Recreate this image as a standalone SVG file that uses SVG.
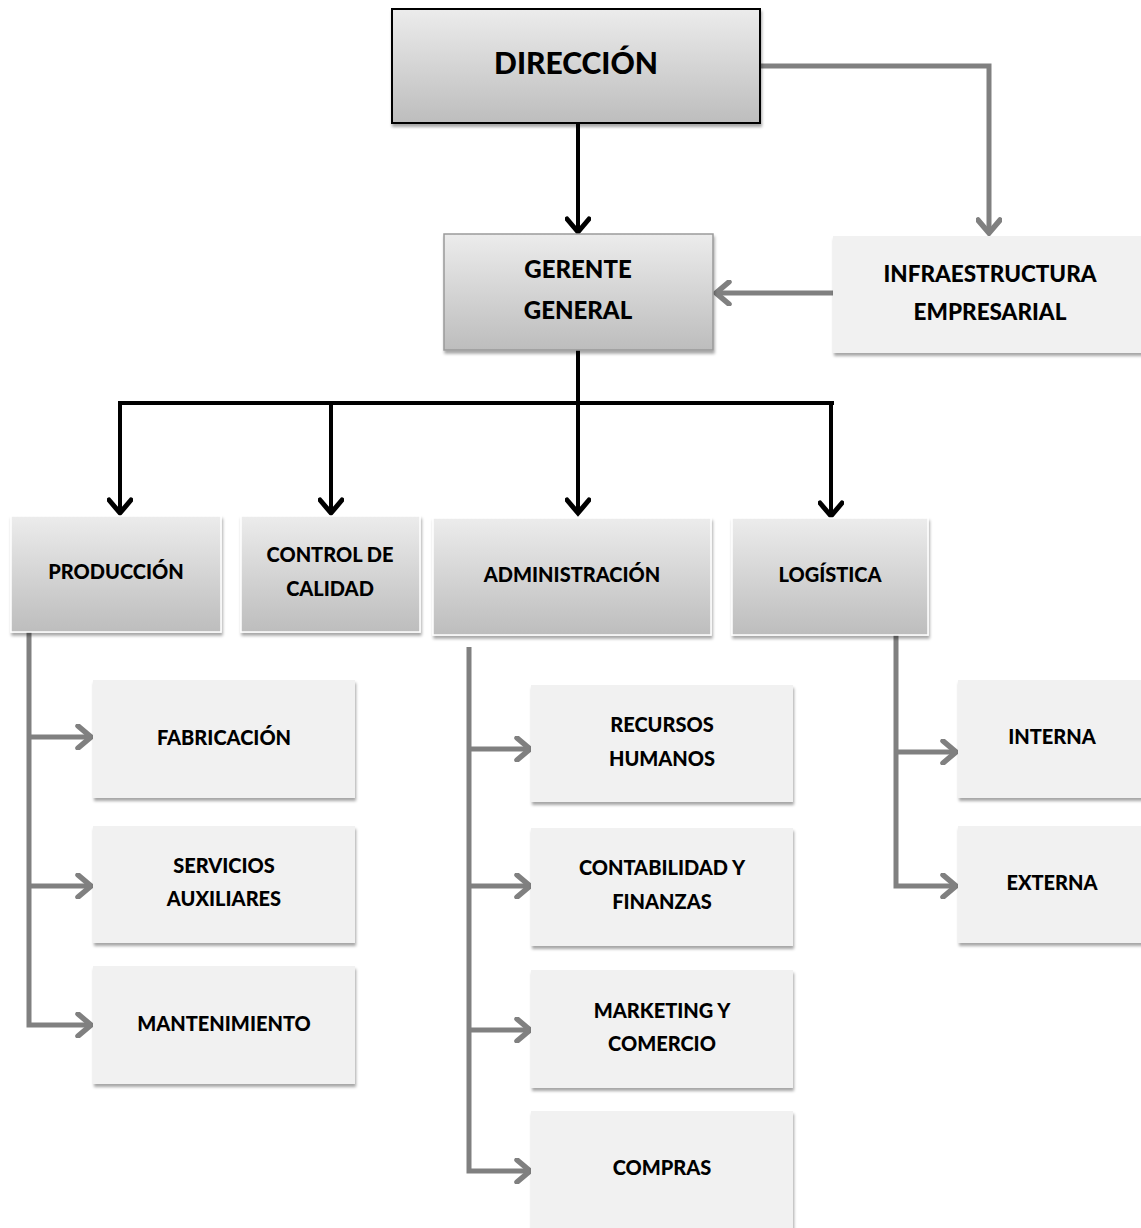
<svg xmlns="http://www.w3.org/2000/svg" width="1141" height="1228" viewBox="0 0 1141 1228">
  <style>
    text { font-family: Lato, "Open Sans", "Liberation Sans", sans-serif; font-weight: 900; fill: #000; text-anchor: middle; }
    .t-main { font-size: 30px; }
    .t-mid { font-size: 24px; }
    .t-infra { font-size: 22.5px; }
    .t-sub { font-size: 20px; }
    .grad-box { fill: url(#boxGrad); filter: url(#shadow); }
    .flat-box { fill: #f1f1f1; filter: url(#shadow); }
    .black-link { fill: none; stroke: #000; stroke-width: 4; }
    .gray-link { fill: none; stroke: #808080; stroke-width: 5; }
  </style>
  <defs>
    <linearGradient id="boxGrad" x1="0" y1="0" x2="0" y2="1">
      <stop offset="0" stop-color="#ececec"/>
      <stop offset="1" stop-color="#bdbdbd"/>
    </linearGradient>
    <filter id="shadow" x="-10%" y="-10%" width="130%" height="130%">
      <feDropShadow dx="1" dy="3" stdDeviation="1.5" flood-color="#000" flood-opacity="0.35"/>
    </filter>
    <marker id="headBlack" viewBox="0 0 26 26" refX="22" refY="13" markerWidth="26" markerHeight="26" markerUnits="userSpaceOnUse" orient="auto">
      <path d="M9,2 L22,13 L9,24" fill="none" stroke="#000" stroke-width="5" stroke-linecap="round" stroke-linejoin="miter"/>
    </marker>
    <marker id="headGray" viewBox="0 0 26 26" refX="22" refY="13" markerWidth="26" markerHeight="26" markerUnits="userSpaceOnUse" orient="auto">
      <path d="M9,2 L22,13 L9,24" fill="none" stroke="#808080" stroke-width="5.5" stroke-linecap="round" stroke-linejoin="miter"/>
    </marker>
  </defs>

  <!-- connectors -->
  <g id="connectors">
    <!-- top level -->
    <path class="black-link" d="M578,123 V232" marker-end="url(#headBlack)"/>
    <path class="gray-link" d="M760,66 H989 V233" marker-end="url(#headGray)"/>
    <path class="gray-link" d="M833,293 H716" marker-end="url(#headGray)"/>
    <!-- general manager to departments -->
    <path class="black-link" d="M578,350 V403"/>
    <path class="black-link" d="M118,403 H834"/>
    <path class="black-link" d="M120,403 V513" marker-end="url(#headBlack)"/>
    <path class="black-link" d="M331,403 V513" marker-end="url(#headBlack)"/>
    <path class="black-link" d="M578,403 V513" marker-end="url(#headBlack)"/>
    <path class="black-link" d="M831,403 V516" marker-end="url(#headBlack)"/>
    <!-- production -->
    <path class="gray-link" d="M29,632 V1025 H91" marker-end="url(#headGray)"/>
    <path class="gray-link" d="M29,737 H91" marker-end="url(#headGray)"/>
    <path class="gray-link" d="M29,886 H91" marker-end="url(#headGray)"/>
    <!-- administration -->
    <path class="gray-link" d="M469,647 V1171 H530" marker-end="url(#headGray)"/>
    <path class="gray-link" d="M469,749 H530" marker-end="url(#headGray)"/>
    <path class="gray-link" d="M469,886 H530" marker-end="url(#headGray)"/>
    <path class="gray-link" d="M469,1030 H530" marker-end="url(#headGray)"/>
    <!-- logistics -->
    <path class="gray-link" d="M896,635 V886 H956" marker-end="url(#headGray)"/>
    <path class="gray-link" d="M896,752 H956" marker-end="url(#headGray)"/>
  </g>

  <g id="direccion">
    <rect class="grad-box" x="392" y="9" width="368" height="114" stroke="#000" stroke-width="2"/>
    <text class="t-main" x="576" y="74">DIRECCIÓN</text>
  </g>

  <g id="gerente-general">
    <rect class="grad-box" x="444" y="234" width="269" height="116" stroke="#9a9a9a" stroke-width="1.5"/>
    <text class="t-mid" x="578" y="278">GERENTE</text>
    <text class="t-mid" x="578" y="319">GENERAL</text>
  </g>

  <g id="infraestructura">
    <rect class="flat-box" x="833" y="236" width="312" height="117"/>
    <text class="t-infra" x="990" y="282">INFRAESTRUCTURA</text>
    <text class="t-infra" x="990" y="320">EMPRESARIAL</text>
  </g>

  <g id="produccion">
    <rect class="grad-box" x="11" y="516" width="210" height="116" stroke="#fff" stroke-width="1.5"/>
    <text class="t-sub" x="116" y="579">PRODUCCIÓN</text>
  </g>

  <g id="control-calidad">
    <rect class="grad-box" x="241" y="516" width="179" height="116" stroke="#fff" stroke-width="1.5"/>
    <text class="t-sub" x="330" y="562">CONTROL DE</text>
    <text class="t-sub" x="330" y="596">CALIDAD</text>
  </g>

  <g id="administracion">
    <rect class="grad-box" x="433" y="518" width="278" height="117" stroke="#fff" stroke-width="1.5"/>
    <text class="t-sub" x="572" y="582">ADMINISTRACIÓN</text>
  </g>

  <g id="logistica">
    <rect class="grad-box" x="732" y="518" width="196" height="117" stroke="#fff" stroke-width="1.5"/>
    <text class="t-sub" x="830" y="582">LOGÍSTICA</text>
  </g>

  <g id="fabricacion">
    <rect class="flat-box" x="93" y="680" width="262" height="118"/>
    <text class="t-sub" x="224" y="745">FABRICACIÓN</text>
  </g>

  <g id="servicios-auxiliares">
    <rect class="flat-box" x="93" y="826" width="262" height="117"/>
    <text class="t-sub" x="224" y="873">SERVICIOS</text>
    <text class="t-sub" x="224" y="906">AUXILIARES</text>
  </g>

  <g id="mantenimiento">
    <rect class="flat-box" x="93" y="966" width="262" height="118"/>
    <text class="t-sub" x="224" y="1031">MANTENIMIENTO</text>
  </g>

  <g id="recursos-humanos">
    <rect class="flat-box" x="531" y="685" width="262" height="117"/>
    <text class="t-sub" x="662" y="732">RECURSOS</text>
    <text class="t-sub" x="662" y="766">HUMANOS</text>
  </g>

  <g id="contabilidad-finanzas">
    <rect class="flat-box" x="531" y="828" width="262" height="118"/>
    <text class="t-sub" x="662" y="875">CONTABILIDAD Y</text>
    <text class="t-sub" x="662" y="909">FINANZAS</text>
  </g>

  <g id="marketing-comercio">
    <rect class="flat-box" x="531" y="970" width="262" height="118"/>
    <text class="t-sub" x="662" y="1018">MARKETING Y</text>
    <text class="t-sub" x="662" y="1051">COMERCIO</text>
  </g>

  <g id="compras">
    <rect class="flat-box" x="531" y="1111" width="262" height="125"/>
    <text class="t-sub" x="662" y="1175">COMPRAS</text>
  </g>

  <g id="interna">
    <rect class="flat-box" x="958" y="680" width="190" height="118"/>
    <text class="t-sub" x="1052" y="744">INTERNA</text>
  </g>

  <g id="externa">
    <rect class="flat-box" x="958" y="826" width="190" height="117"/>
    <text class="t-sub" x="1052" y="890">EXTERNA</text>
  </g>
</svg>
